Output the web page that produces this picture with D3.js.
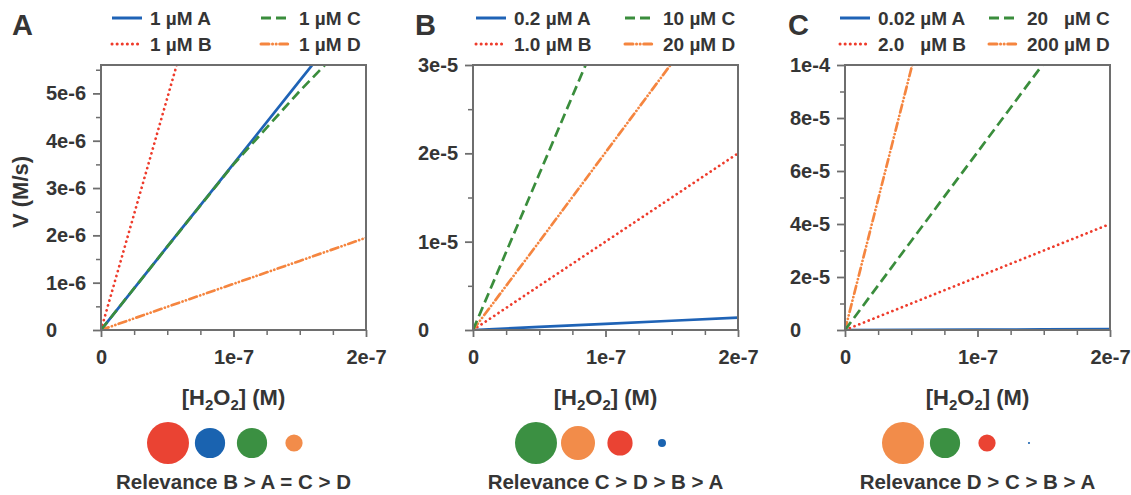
<!DOCTYPE html>
<html><head><meta charset="utf-8">
<script src="https://cdn.jsdelivr.net/npm/d3@7"></script>
<style>
html,body{margin:0;padding:0;background:#fff;}
svg{display:block;font-family:"Liberation Sans",Arial,sans-serif;font-weight:bold;}
</style></head>
<body><svg id="chart" width="1131" height="495"></svg>
<script>
// ---------- data ----------
const panelLetters = ["A", "B", "C"];
const seriesKeys = ["A", "B", "C", "D"];
const h2o2 = [0, 0.5e-7, 1e-7, 1.5e-7, 2e-7];           // x values (M)
const xTicks = [0, 1e-7, 2e-7];
const xMinorTicks = [0.25e-7, 0.5e-7, 0.75e-7, 1.25e-7, 1.5e-7, 1.75e-7];

const legendA = ["1 µM A", "1 µM B", "1 µM C", "1 µM D"];
const legendB = ["0.2 µM A", "1.0 µM B", "10 µM C", "20 µM D"];
const legendC = ["0.02 µM A", "2.0   µM B", "20   µM C", "200 µM D"];

// V (M/s) for each series at the h2o2 values
const panelA_A = [0, 1.76e-6, 3.51e-6, 5.27e-6, 7.02e-6];
const panelA_B = [0, 4.9e-6, 9.8e-6, 1.47e-5, 1.96e-5];
const panelA_C = [0, 1.76e-6, 3.5e-6, 5.05e-6, 6.5e-6];
const panelA_D = [0, 0.49e-6, 0.975e-6, 1.46e-6, 1.95e-6];

const panelB_A = [0, 0.35e-6, 0.7e-6, 1.05e-6, 1.4e-6];
const panelB_B = [0, 5e-6, 1e-5, 1.5e-5, 2e-5];
const panelB_C = [0, 1.765e-5, 3.53e-5, 5.3e-5, 7.06e-5];
const panelB_D = [0, 1.0e-5, 2.01e-5, 3.02e-5, 4.02e-5];

const panelC_A = [0, 0.075e-6, 0.15e-6, 0.22e-6, 0.3e-6];
const panelC_B = [0, 1e-5, 2e-5, 3e-5, 4e-5];
const panelC_C = [0, 3.36e-5, 6.71e-5, 1.007e-4, 1.34e-4];
const panelC_D = [0, 9.86e-5, 1.97e-4, 2.96e-4, 3.94e-4];

const yMaxes = [5.6e-6, 3e-5, 1e-4];
const yTicksA = [0, 1e-6, 2e-6, 3e-6, 4e-6, 5e-6];
const yMinorA = [0.5e-6, 1.5e-6, 2.5e-6, 3.5e-6, 4.5e-6, 5.5e-6];
const yTicksB = [0, 1e-5, 2e-5, 3e-5];
const yMinorB = [0.5e-5, 1.5e-5, 2.5e-5];
const yTicksC = [0, 2e-5, 4e-5, 6e-5, 8e-5, 1e-4];
const yMinorC = [1e-5, 3e-5, 5e-5, 7e-5, 9e-5];

// relevance (relative size of bubble), in display order
const relevanceOrderA = ["B", "A", "C", "D"];
const relevanceA = [1.0, 0.72, 0.72, 0.41];
const relevanceOrderB = ["C", "D", "B", "A"];
const relevanceB = [1.0, 0.81, 0.6, 0.19];
const relevanceOrderC = ["D", "C", "B", "A"];
const relevanceC = [1.0, 0.72, 0.41, 0.05];
const relevanceText = ["Relevance B > A = C > D", "Relevance C > D > B > A", "Relevance D > C > B > A"];

// ---------- styles ----------
const colors = {A: "#1f63b6", B: "#ee3b2b", C: "#3a8d3c", D: "#f5853f"};
const bubbleColors = {A: "#1a63b0", B: "#ea4333", C: "#3b9042", D: "#f28c4a"};
const dashes = {A: null, B: "0.1 5", C: "10 5", D: "8 3.5 0.1 3.5 0.1 3.5"};
const caps = {A: "butt", B: "round", C: "butt", D: "round"};
const textColor = "#353535";
const axisColor = "#6e6e6e";

const panels = [
  {letter: panelLetters[0], legend: legendA, series: [panelA_A, panelA_B, panelA_C, panelA_D],
   yMax: yMaxes[0], yTicks: yTicksA, yMinor: yMinorA, relOrder: relevanceOrderA, rel: relevanceA, relText: relevanceText[0],
   left: 101, letterX: 12, legendX: 112, bubbleCx: 231},
  {letter: panelLetters[1], legend: legendB, series: [panelB_A, panelB_B, panelB_C, panelB_D],
   yMax: yMaxes[1], yTicks: yTicksB, yMinor: yMinorB, relOrder: relevanceOrderB, rel: relevanceB, relText: relevanceText[1],
   left: 473, letterX: 415, legendX: 476, bubbleCx: 599},
  {letter: panelLetters[2], legend: legendC, series: [panelC_A, panelC_B, panelC_C, panelC_D],
   yMax: yMaxes[2], yTicks: yTicksC, yMinor: yMinorC, relOrder: relevanceOrderC, rel: relevanceC, relText: relevanceText[2],
   left: 845, letterX: 788, legendX: 840, bubbleCx: 966}
];

const plotW = 265, plotTop = 65, plotBottom = 330;
const svg = d3.select("#chart");

function sciFmt(v) {
  if (v === 0) return "0";
  const e = Math.floor(Math.log10(v) + 1e-9);
  const m = Math.round(v / Math.pow(10, e));
  return m + "e" + e;
}

const rScale = d3.scaleLinear().domain([0, 1]).range([0, 21]);

panels.forEach((p, pi) => {
  const x = d3.scaleLinear().domain([0, 2e-7]).range([p.left, p.left + plotW]);
  const y = d3.scaleLinear().domain([0, p.yMax]).range([plotBottom, plotTop]);
  const g = svg.append("g");

  // panel letter
  g.append("text").attr("x", p.letterX).attr("y", 35).attr("font-size", 29)
    .attr("fill", textColor).text(p.letter);

  // clip
  const clipId = "clip" + pi;
  svg.append("defs").append("clipPath").attr("id", clipId)
    .append("rect").attr("x", p.left).attr("y", plotTop).attr("width", plotW).attr("height", plotBottom - plotTop);

  // axes
  const yAxis = g.append("g").attr("transform", `translate(${p.left},0)`)
    .call(d3.axisLeft(y).tickValues(p.yTicks).tickSize(8).tickFormat(sciFmt));
  yAxis.select(".domain").remove();
  yAxis.selectAll("line").attr("stroke", axisColor).attr("stroke-width", 1.8);
  yAxis.selectAll("text").attr("text-anchor", "start").attr("x", -55)
    .attr("font-size", 20).attr("font-family", "Liberation Sans, Arial, sans-serif").attr("font-weight", "bold").attr("fill", textColor);
  const yMinorAxis = g.append("g").attr("transform", `translate(${p.left},0)`)
    .call(d3.axisLeft(y).tickValues(p.yMinor).tickSize(5).tickFormat(""));
  yMinorAxis.select(".domain").remove();
  yMinorAxis.selectAll("line").attr("stroke", axisColor).attr("stroke-width", 1.5);

  const xAxis = g.append("g").attr("transform", `translate(0,${plotBottom})`)
    .call(d3.axisBottom(x).tickValues(xTicks).tickSize(7).tickPadding(13).tickFormat(sciFmt));
  xAxis.select(".domain").remove();
  xAxis.selectAll("line").attr("stroke", axisColor).attr("stroke-width", 1.8);
  xAxis.selectAll("text").attr("font-size", 20).attr("font-family", "Liberation Sans, Arial, sans-serif")
    .attr("font-weight", "bold").attr("fill", textColor);
  const xMinorAxis = g.append("g").attr("transform", `translate(0,${plotBottom})`)
    .call(d3.axisBottom(x).tickValues(xMinorTicks).tickSize(5).tickFormat(""));
  xMinorAxis.select(".domain").remove();
  xMinorAxis.selectAll("line").attr("stroke", axisColor).attr("stroke-width", 1.5);

  // lines
  const line = d3.line().x((d, i) => x(h2o2[i])).y(d => y(d));
  const lg = g.append("g").attr("clip-path", `url(#${clipId})`);
  [0, 1, 3, 2].forEach(si => {
    const k = seriesKeys[si];
    lg.append("path").datum(p.series[si]).attr("d", line)
      .attr("fill", "none").attr("stroke", colors[k]).attr("stroke-width", 2.7)
      .attr("stroke-dasharray", dashes[k]).attr("stroke-linecap", caps[k]);
  });

  // box
  g.append("rect").attr("x", p.left).attr("y", plotTop).attr("width", plotW).attr("height", plotBottom - plotTop)
    .attr("fill", "none").attr("stroke", axisColor).attr("stroke-width", 2);

  // x title
  const xt = g.append("text").attr("x", x(1e-7)).attr("y", 405).attr("text-anchor", "middle")
    .attr("font-size", 22).attr("fill", textColor);
  xt.append("tspan").text("[H");
  xt.append("tspan").attr("font-size", 15).attr("dy", 5).text("2");
  xt.append("tspan").attr("dy", -5).text("O");
  xt.append("tspan").attr("font-size", 15).attr("dy", 5).text("2");
  xt.append("tspan").attr("dy", -5).text("] (M)");

  // legend
  const legPos = [[0, 18], [0, 44], [149, 18], [149, 44]];
  seriesKeys.forEach((k, si) => {
    const lx = p.legendX + legPos[si][0], ly = legPos[si][1];
    g.append("line").attr("x1", lx).attr("x2", lx + 30).attr("y1", ly).attr("y2", ly)
      .attr("stroke", colors[k]).attr("stroke-width", 3)
      .attr("stroke-dasharray", dashes[k]).attr("stroke-linecap", caps[k]);
    g.append("text").attr("x", lx + 38).attr("y", ly + 7).attr("font-size", 19)
      .attr("fill", textColor).style("white-space", "pre").text(p.legend[si]);
  });

  // bubbles
  const bx = d3.scalePoint().domain(p.relOrder).range([p.bubbleCx - 63, p.bubbleCx + 63]);
  p.relOrder.forEach((k, i) => {
    g.append("circle").attr("cx", bx(k)).attr("cy", 443).attr("r", rScale(p.rel[i]))
      .attr("fill", bubbleColors[k]);
  });
  g.append("text").attr("x", x(1e-7)).attr("y", 489).attr("text-anchor", "middle")
    .attr("font-size", 20.5).attr("fill", textColor).text(p.relText);
});

// y title
svg.append("text").attr("transform", "translate(28,192) rotate(-90)").attr("text-anchor", "middle")
  .attr("font-size", 22).attr("fill", textColor).text("V (M/s)");
</script>
</body></html>
